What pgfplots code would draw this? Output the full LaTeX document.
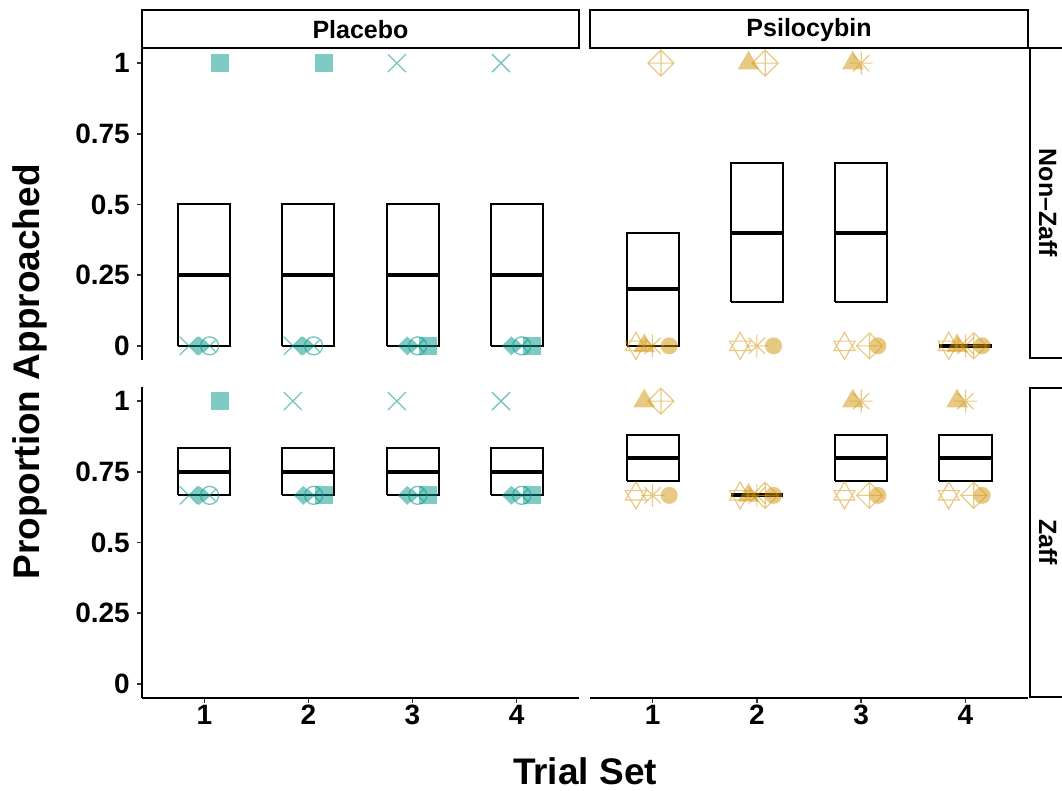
\documentclass[border=0pt]{standalone}
\usepackage{fontspec}
\setmainfont{Liberation Sans}
\usepackage{pgfplots}
\pgfplotsset{compat=1.18}

\definecolor{tealc}{RGB}{0,150,136}
\definecolor{goldc}{RGB}{210,148,10}

% custom plot marks (ggplot shapes)
\pgfdeclareplotmark{fsq}{%
  \pgfpathrectanglecorners{\pgfqpoint{-\pgfplotmarksize}{-\pgfplotmarksize}}{\pgfqpoint{\pgfplotmarksize}{\pgfplotmarksize}}%
  \pgfusepathqfill}
\pgfdeclareplotmark{fdiam}{%
  \pgfpathmoveto{\pgfqpoint{0pt}{\pgfplotmarksize}}%
  \pgfpathlineto{\pgfqpoint{\pgfplotmarksize}{0pt}}%
  \pgfpathlineto{\pgfqpoint{0pt}{-\pgfplotmarksize}}%
  \pgfpathlineto{\pgfqpoint{-\pgfplotmarksize}{0pt}}%
  \pgfpathclose\pgfusepathqfill}
\pgfdeclareplotmark{ftri}{%
  \pgfpathmoveto{\pgfqpoint{0pt}{\pgfplotmarksize}}%
  \pgfpathlineto{\pgfqpoint{0.866\pgfplotmarksize}{-0.5\pgfplotmarksize}}%
  \pgfpathlineto{\pgfqpoint{-0.866\pgfplotmarksize}{-0.5\pgfplotmarksize}}%
  \pgfpathclose\pgfusepathqfill}
\pgfdeclareplotmark{fcirc}{%
  \pgfpathcircle{\pgfpointorigin}{\pgfplotmarksize}\pgfusepathqfill}
\pgfdeclareplotmark{ocross}{%
  \pgfpathcircle{\pgfpointorigin}{\pgfplotmarksize}%
  \pgfpathmoveto{\pgfqpoint{-0.707\pgfplotmarksize}{-0.707\pgfplotmarksize}}%
  \pgfpathlineto{\pgfqpoint{0.707\pgfplotmarksize}{0.707\pgfplotmarksize}}%
  \pgfpathmoveto{\pgfqpoint{-0.707\pgfplotmarksize}{0.707\pgfplotmarksize}}%
  \pgfpathlineto{\pgfqpoint{0.707\pgfplotmarksize}{-0.707\pgfplotmarksize}}%
  \pgfusepathqstroke}
\pgfdeclareplotmark{xcross}{%
  \pgfpathmoveto{\pgfqpoint{-\pgfplotmarksize}{-\pgfplotmarksize}}%
  \pgfpathlineto{\pgfqpoint{\pgfplotmarksize}{\pgfplotmarksize}}%
  \pgfpathmoveto{\pgfqpoint{-\pgfplotmarksize}{\pgfplotmarksize}}%
  \pgfpathlineto{\pgfqpoint{\pgfplotmarksize}{-\pgfplotmarksize}}%
  \pgfusepathqstroke}
\pgfdeclareplotmark{dstar}{%
  \pgfpathmoveto{\pgfqpoint{0pt}{\pgfplotmarksize}}%
  \pgfpathlineto{\pgfqpoint{0.78\pgfplotmarksize}{-0.35\pgfplotmarksize}}%
  \pgfpathlineto{\pgfqpoint{-0.78\pgfplotmarksize}{-0.35\pgfplotmarksize}}%
  \pgfpathclose
  \pgfpathmoveto{\pgfqpoint{0pt}{-\pgfplotmarksize}}%
  \pgfpathlineto{\pgfqpoint{0.78\pgfplotmarksize}{0.35\pgfplotmarksize}}%
  \pgfpathlineto{\pgfqpoint{-0.78\pgfplotmarksize}{0.35\pgfplotmarksize}}%
  \pgfpathclose
  \pgfusepathqstroke}
\pgfdeclareplotmark{ast8}{%
  \pgfpathmoveto{\pgfqpoint{-\pgfplotmarksize}{0pt}}%
  \pgfpathlineto{\pgfqpoint{\pgfplotmarksize}{0pt}}%
  \pgfpathmoveto{\pgfqpoint{0pt}{-\pgfplotmarksize}}%
  \pgfpathlineto{\pgfqpoint{0pt}{\pgfplotmarksize}}%
  \pgfpathmoveto{\pgfqpoint{-0.7\pgfplotmarksize}{-0.7\pgfplotmarksize}}%
  \pgfpathlineto{\pgfqpoint{0.7\pgfplotmarksize}{0.7\pgfplotmarksize}}%
  \pgfpathmoveto{\pgfqpoint{-0.7\pgfplotmarksize}{0.7\pgfplotmarksize}}%
  \pgfpathlineto{\pgfqpoint{0.7\pgfplotmarksize}{-0.7\pgfplotmarksize}}%
  \pgfusepathqstroke}
\pgfdeclareplotmark{dplus}{%
  \pgfpathmoveto{\pgfqpoint{0pt}{\pgfplotmarksize}}%
  \pgfpathlineto{\pgfqpoint{\pgfplotmarksize}{0pt}}%
  \pgfpathlineto{\pgfqpoint{0pt}{-\pgfplotmarksize}}%
  \pgfpathlineto{\pgfqpoint{-\pgfplotmarksize}{0pt}}%
  \pgfpathclose
  \pgfpathmoveto{\pgfqpoint{-\pgfplotmarksize}{0pt}}%
  \pgfpathlineto{\pgfqpoint{\pgfplotmarksize}{0pt}}%
  \pgfpathmoveto{\pgfqpoint{0pt}{-\pgfplotmarksize}}%
  \pgfpathlineto{\pgfqpoint{0pt}{\pgfplotmarksize}}%
  \pgfusepathqstroke}

\pgfplotsset{
  panel/.style={scale only axis, width=437pt, height=311pt,
    xmin=0.4, xmax=4.6, ymin=-0.05, ymax=1.05, clip=false,
    xtick={1,2,3,4}, xticklabels={1,2,3,4},
    ytick={0,0.25,0.5,0.75,1}, yticklabels={0,0.25,0.5,0.75,1},
    tick align=outside, major tick length=5pt,
    tick style={black!80, line width=1.5pt},
    axis line style={black, line width=1.6pt},
    tick label style={font=\bfseries\fontsize{28}{30}\selectfont, black},
    yticklabel style={inner sep=0.3em, xshift=-4pt},
    xticklabel style={inner sep=0.2em},
  },
  bx/.style={black, line width=2pt, solid, no marks},
  md/.style={black, line width=3.8pt, solid, no marks},
  % placebo subjects
  sA/.style={only marks, mark=xcross, mark size=9pt, mark options={draw=tealc, draw opacity=0.55, line width=1.3pt}},
  sB/.style={only marks, mark=fdiam, mark size=9.5pt, mark options={fill=tealc, fill opacity=0.5}},
  sC/.style={only marks, mark=ocross, mark size=9pt, mark options={draw=tealc, draw opacity=0.55, line width=1.3pt}},
  sD/.style={only marks, mark=fsq, mark size=9pt, mark options={fill=tealc, fill opacity=0.5}},
  % psilocybin subjects
  sE/.style={only marks, mark=dstar, mark size=13.5pt, mark options={draw=goldc, draw opacity=0.5, line width=1.2pt}},
  sF/.style={only marks, mark=ftri, mark size=12.5pt, mark options={fill=goldc, fill opacity=0.5}},
  sG/.style={only marks, mark=ast8, mark size=11.5pt, mark options={draw=goldc, draw opacity=0.5, line width=1.2pt}},
  sH/.style={only marks, mark=dplus, mark size=13pt, mark options={draw=goldc, draw opacity=0.5, line width=1.2pt}},
  sI/.style={only marks, mark=fcirc, mark size=8.5pt, mark options={fill=goldc, fill opacity=0.5}},
}

\begin{document}
\begin{tikzpicture}

% ---------------- Placebo / Non-Zaff ----------------
\begin{axis}[panel, at={(142pt,431pt)}, anchor=south west,
  axis x line=none, axis y line*=left]
\addplot[sA] coordinates {(0.85,0) (1.85,0) (2.85,1) (3.85,1)};
\addplot[sB] coordinates {(0.95,0) (1.95,0) (2.95,0) (3.95,0)};
\addplot[sC] coordinates {(1.05,0) (2.05,0) (3.05,0) (4.05,0)};
\addplot[sD] coordinates {(1.15,1) (2.15,1) (3.15,0) (4.15,0)};
% boxes: mean +/- SE
\addplot[bx] coordinates {(0.75,0) (1.25,0) (1.25,0.5) (0.75,0.5) (0.75,0)};
\addplot[bx] coordinates {(1.75,0) (2.25,0) (2.25,0.5) (1.75,0.5) (1.75,0)};
\addplot[bx] coordinates {(2.75,0) (3.25,0) (3.25,0.5) (2.75,0.5) (2.75,0)};
\addplot[bx] coordinates {(3.75,0) (4.25,0) (4.25,0.5) (3.75,0.5) (3.75,0)};
\addplot[md] coordinates {(0.75,0.25) (1.25,0.25)};
\addplot[md] coordinates {(1.75,0.25) (2.25,0.25)};
\addplot[md] coordinates {(2.75,0.25) (3.25,0.25)};
\addplot[md] coordinates {(3.75,0.25) (4.25,0.25)};
\end{axis}

% ---------------- Psilocybin / Non-Zaff ----------------
\begin{axis}[panel, at={(590pt,431pt)}, anchor=south west, width=438pt,
  axis x line=none, axis y line=none]
\addplot[sE] coordinates {(0.84,0) (1.84,0) (2.84,0) (3.84,0)};
\addplot[sF] coordinates {(0.92,0) (1.92,1) (2.92,1) (3.92,0)};
\addplot[sG] coordinates {(1,0) (2,0) (3,1) (4,0)};
\addplot[sH] coordinates {(1.08,1) (2.08,1) (3.08,0) (4.08,0)};
\addplot[sI] coordinates {(1.16,0) (2.16,0) (3.16,0) (4.16,0)};
\addplot[bx] coordinates {(0.75,0) (1.25,0) (1.25,0.4) (0.75,0.4) (0.75,0)};
\addplot[bx] coordinates {(1.75,0.155) (2.25,0.155) (2.25,0.645) (1.75,0.645) (1.75,0.155)};
\addplot[bx] coordinates {(2.75,0.155) (3.25,0.155) (3.25,0.645) (2.75,0.645) (2.75,0.155)};
\addplot[bx] coordinates {(3.75,0) (4.25,0)};
\addplot[md] coordinates {(0.75,0.2) (1.25,0.2)};
\addplot[md] coordinates {(1.75,0.4) (2.25,0.4)};
\addplot[md] coordinates {(2.75,0.4) (3.25,0.4)};
\addplot[md] coordinates {(3.75,0) (4.25,0)};
\end{axis}

% ---------------- Placebo / Zaff ----------------
\begin{axis}[panel, at={(142pt,93pt)}, anchor=south west,
  axis x line*=bottom, axis y line*=left]
\addplot[sA] coordinates {(0.85,0.6667) (1.85,1) (2.85,1) (3.85,1)};
\addplot[sB] coordinates {(0.95,0.6667) (1.95,0.6667) (2.95,0.6667) (3.95,0.6667)};
\addplot[sC] coordinates {(1.05,0.6667) (2.05,0.6667) (3.05,0.6667) (4.05,0.6667)};
\addplot[sD] coordinates {(1.15,1) (2.15,0.6667) (3.15,0.6667) (4.15,0.6667)};
\addplot[bx] coordinates {(0.75,0.6667) (1.25,0.6667) (1.25,0.8333) (0.75,0.8333) (0.75,0.6667)};
\addplot[bx] coordinates {(1.75,0.6667) (2.25,0.6667) (2.25,0.8333) (1.75,0.8333) (1.75,0.6667)};
\addplot[bx] coordinates {(2.75,0.6667) (3.25,0.6667) (3.25,0.8333) (2.75,0.8333) (2.75,0.6667)};
\addplot[bx] coordinates {(3.75,0.6667) (4.25,0.6667) (4.25,0.8333) (3.75,0.8333) (3.75,0.6667)};
\addplot[md] coordinates {(0.75,0.75) (1.25,0.75)};
\addplot[md] coordinates {(1.75,0.75) (2.25,0.75)};
\addplot[md] coordinates {(2.75,0.75) (3.25,0.75)};
\addplot[md] coordinates {(3.75,0.75) (4.25,0.75)};
\end{axis}

% ---------------- Psilocybin / Zaff ----------------
\begin{axis}[panel, at={(590pt,93pt)}, anchor=south west, width=438pt,
  axis x line*=bottom, axis y line=none]
\addplot[sE] coordinates {(0.84,0.6667) (1.84,0.6667) (2.84,0.6667) (3.84,0.6667)};
\addplot[sF] coordinates {(0.92,1) (1.92,0.6667) (2.92,1) (3.92,1)};
\addplot[sG] coordinates {(1,0.6667) (2,0.6667) (3,1) (4,1)};
\addplot[sH] coordinates {(1.08,1) (2.08,0.6667) (3.08,0.6667) (4.08,0.6667)};
\addplot[sI] coordinates {(1.16,0.6667) (2.16,0.6667) (3.16,0.6667) (4.16,0.6667)};
\addplot[bx] coordinates {(0.75,0.7184) (1.25,0.7184) (1.25,0.8816) (0.75,0.8816) (0.75,0.7184)};
\addplot[bx] coordinates {(1.75,0.6667) (2.25,0.6667)};
\addplot[bx] coordinates {(2.75,0.7184) (3.25,0.7184) (3.25,0.8816) (2.75,0.8816) (2.75,0.7184)};
\addplot[bx] coordinates {(3.75,0.7184) (4.25,0.7184) (4.25,0.8816) (3.75,0.8816) (3.75,0.7184)};
\addplot[md] coordinates {(0.75,0.8) (1.25,0.8)};
\addplot[md] coordinates {(1.75,0.6667) (2.25,0.6667)};
\addplot[md] coordinates {(2.75,0.8) (3.25,0.8)};
\addplot[md] coordinates {(3.75,0.8) (4.25,0.8)};
\end{axis}

% ---------------- strips ----------------
\begin{scope}[line width=2.2pt]
\draw[fill=white] (142pt,743pt) rectangle (579pt,781pt);
\draw[fill=white] (590pt,743pt) rectangle (1028pt,781pt);
\draw[fill=white] (1030pt,433pt) rectangle (1072pt,743pt);
\draw[fill=white] (1030pt,94pt) rectangle (1072pt,403pt);
\end{scope}
\node[font=\bfseries\fontsize{25}{25}\selectfont] at (360.5pt,761pt) {Placebo};
\node[font=\bfseries\fontsize{25}{25}\selectfont] at (809pt,761pt) {Psilocybin};
\node[font=\bfseries\fontsize{25}{25}\selectfont, rotate=-90] at (1048pt,588pt) {Non–Zaff};
\node[font=\bfseries\fontsize{25}{25}\selectfont, rotate=-90] at (1048pt,249pt) {Zaff};

% ---------------- axis titles ----------------
\node[font=\bfseries\fontsize{37}{37}\selectfont, rotate=90] at (30pt,419pt) {Proportion Approached};
\node[font=\bfseries\fontsize{37}{37}\selectfont, anchor=base] at (585pt,6pt) {Trial Set};

\pgfresetboundingbox
\useasboundingbox (0pt,0pt) rectangle (1062pt,791pt);
\end{tikzpicture}
\end{document}
